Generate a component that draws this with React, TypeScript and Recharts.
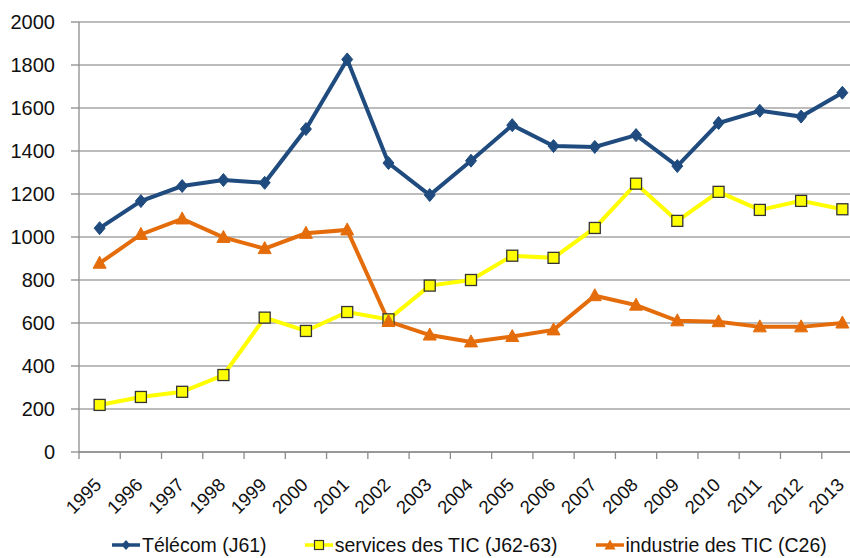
import { LineChart, Line, XAxis, YAxis, CartesianGrid, Legend } from 'recharts';

const years = ['1995', '1996', '1997', '1998', '1999', '2000', '2001', '2002', '2003', '2004',
  '2005', '2006', '2007', '2008', '2009', '2010', '2011', '2012', '2013'];
const telecom = [1041, 1167, 1237, 1265, 1252, 1502, 1826, 1344, 1195, 1355, 1520, 1423, 1419, 1474, 1330, 1530, 1587, 1560, 1671];
const services = [219, 256, 280, 358, 625, 563, 651, 617, 774, 800, 913, 903, 1042, 1248, 1075, 1210, 1126, 1168, 1129];
const industrie = [878, 1012, 1084, 998, 946, 1017, 1033, 607, 544, 512, 537, 568, 727, 683, 610, 606, 582, 582, 600];
const yTicks = [0, 200, 400, 600, 800, 1000, 1200, 1400, 1600, 1800, 2000];

const BLUE = '#1f4b7e';
const YELLOW = '#ffff00';
const ORANGE = '#e46c0a';
const FONT = '"Liberation Sans", Arial, sans-serif';

const W = 880;
const H = 558;
const Y_W = 79;
const RIGHT = 17;
const STEP = (W - Y_W - RIGHT) / years.length;

const data = years.map((year, i) => ({
  year,
  telecom: telecom[i],
  services: services[i],
  industrie: industrie[i],
}));

const Diamond = ({ cx, cy }: any) => (
  <path d={`M${cx},${cy - 6.5} L${cx + 5.5},${cy} L${cx},${cy + 6.5} L${cx - 5.5},${cy} Z`} fill={BLUE} stroke={BLUE} strokeWidth={1} />
);
const Square = ({ cx, cy }: any) => (
  <rect x={cx - 5.5} y={cy - 5.5} width={11} height={11} fill={YELLOW} stroke="#333" strokeWidth={1.3} />
);
const Triangle = ({ cx, cy }: any) => (
  <path d={`M${cx},${cy - 7} L${cx + 6.5},${cy + 5} L${cx - 6.5},${cy + 5} Z`} fill={ORANGE} stroke={ORANGE} strokeWidth={1} />
);

// Excel style: tick marks sit between categories, labels rotated under the point
const XTick = ({ x, y, payload }: any) => (
  <g>
    <line x1={x - STEP / 2} y1={y} x2={x - STEP / 2} y2={y + 7} stroke="#8c8c8c" strokeWidth={1.3} />
    {payload.index === years.length - 1 && (
      <line x1={x + STEP / 2} y1={y} x2={x + STEP / 2} y2={y + 7} stroke="#8c8c8c" strokeWidth={1.3} />
    )}
    <text x={x + 3} y={y + 34} textAnchor="end" transform={`rotate(-45 ${x + 3} ${y + 34})`}
      fontSize={18.5} fontFamily={FONT} fill="#111">
      {payload.value}
    </text>
  </g>
);

const legendItems = [
  { label: 'Télécom (J61)', color: BLUE, mark: 'diamond' },
  { label: 'services des TIC (J62-63)', color: YELLOW, mark: 'square' },
  { label: 'industrie des TIC (C26)', color: ORANGE, mark: 'triangle' },
];

const LegendIcon = ({ color, mark }: { color: string; mark: string }) => (
  <svg width={28} height={16} style={{ marginRight: 2 }}>
    <line x1={0} y1={8} x2={28} y2={8} stroke={color} strokeWidth={3.5} />
    {mark === 'diamond' && <path d="M14,3 L18.5,8 L14,13 L9.5,8 Z" fill={BLUE} />}
    {mark === 'square' && <rect x={9.5} y={3.5} width={9} height={9} fill={YELLOW} stroke="#333" strokeWidth={1.2} />}
    {mark === 'triangle' && <path d="M14,2.5 L19.5,12.5 L8.5,12.5 Z" fill={ORANGE} />}
  </svg>
);

const renderLegend = () => (
  <div style={{ display: 'flex', alignItems: 'center', paddingLeft: 112, paddingTop: 14, boxSizing: 'border-box',
    fontFamily: FONT, fontSize: 19.5, color: '#111', height: 40 }}>
    {legendItems.map((it) => (
      <div key={it.label} style={{ display: 'flex', alignItems: 'center', marginRight: 38, whiteSpace: 'nowrap' }}>
        <LegendIcon color={it.color} mark={it.mark} />
        <span>{it.label}</span>
      </div>
    ))}
  </div>
);

export default function App() {
  return (
    <div style={{ position: 'absolute', left: 0, top: 0, width: 850, height: H, overflow: 'hidden', background: '#fff' }}>
      <LineChart width={W} height={H} data={data} margin={{ top: 22, right: RIGHT, bottom: 0, left: 0 }}>
        <CartesianGrid vertical={false} stroke="#a6a6a6" strokeWidth={1.3} />
        <XAxis dataKey="year" interval={0} height={66} tickLine={false} tickSize={0} tickMargin={0}
          padding={{ left: STEP / 2, right: STEP / 2 }}
          stroke="#8c8c8c" strokeWidth={1.3} tick={<XTick />} />
        <YAxis domain={[0, 2000]} ticks={yTicks} width={Y_W} tickSize={8} tickMargin={16}
          stroke="#8c8c8c" strokeWidth={1.3}
          tick={{ fontSize: 20, fontFamily: FONT, fill: '#111' }} />
        <Legend verticalAlign="bottom" height={40} content={renderLegend} />
        <Line dataKey="telecom" name="Télécom (J61)" stroke={BLUE} strokeWidth={4} dot={<Diamond />} isAnimationActive={false} />
        <Line dataKey="services" name="services des TIC (J62-63)" stroke={YELLOW} strokeWidth={4} dot={<Square />} isAnimationActive={false} />
        <Line dataKey="industrie" name="industrie des TIC (C26)" stroke={ORANGE} strokeWidth={4} dot={<Triangle />} isAnimationActive={false} />
      </LineChart>
    </div>
  );
}
